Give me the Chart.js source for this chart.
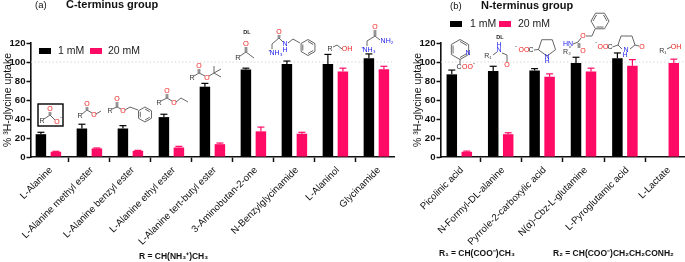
<!DOCTYPE html>
<html><head><meta charset="utf-8">
<script src="https://cdn.jsdelivr.net/npm/chart.js@4"></script>
<style>html,body{margin:0;padding:0;background:#fff;overflow:hidden}canvas{position:absolute;left:0;top:0}</style>
</head><body>
<canvas id="a" width="685" height="262"></canvas>
<canvas id="b" width="685" height="262"></canvas>
<script>
const seriesNames = ['1 mM', '20 mM'];
const cTermCategories = ['L-Alanine','L-Alanine methyl ester','L-Alanine benzyl ester','L-Alanine ethyl ester','L-Alanine tert-butyl ester','3-Aminobutan-2-one','N-Benzylglycinamide','L-Alaninol','Glycinamide'];
const cTerm1mM = [24,30,30,42,74,92,98,98,104];
const cTerm1mMErr = [2,4.5,3,3,3.5,1.5,3,10,4.5];
const cTerm20mM = [5.5,9,6.5,10,13.5,27,24.5,90,92.5];
const cTerm20mMErr = [0.5,0.5,0.5,1.2,1.2,4.5,1.5,3.5,3];
const nTermCategories = ['Picolinic acid','N-Formyl-DL-alanine','Pyrrole-2-carboxylic acid','N(\u03b1)-Cbz-L-glutamine','L-Pyroglutamic acid','L-Lactate'];
const nTerm1mM = [87,90.5,91,99,104,null];
const nTerm1mMErr = [4.5,5,2,6,5.5,null];
const nTerm20mM = [5.5,24,84.5,90,96,99];
const nTerm20mMErr = [0.7,1.5,3,3.5,6.5,4];
const yTicks = [0,20,40,60,80,100,120];

const BLACK='#000', PINK='#ff0a64', RED='#f01818', BLUE='#2222ee', BOND='#555';
const FONT='"Liberation Sans", Arial, sans-serif';

class PlacedCategory extends Chart.CategoryScale {
  configure(){
    super.configure();
    const o=this.options.placement;
    if(!o) return;
    this._valueRange=this._length/o.step;
    this._startValue=-(o.first-this._startPixel)/o.step;
  }
}
PlacedCategory.id='placedCategory';
PlacedCategory.defaults=Chart.CategoryScale.defaults;
Chart.register(PlacedCategory);

function txt(c,s,x,y,col,size,weight){
  c.fillStyle=col||BLACK;
  c.font=(weight||'normal')+' '+(size||7)+'px '+FONT;
  c.textAlign='center';c.textBaseline='middle';
  c.fillText(s,x,y);
}
function line(c,pts,col,w){
  c.strokeStyle=col||BOND;c.lineWidth=w||0.9;c.beginPath();
  pts.forEach((p,i)=>i?c.lineTo(p[0],p[1]):c.moveTo(p[0],p[1]));c.stroke();
}
function ring(c,cx,cy,r,start,n,inner,gap){
  n=n||6;const p=[],q=[];
  for(let i=0;i<=n;i++){
    const a=(start||0)+i*2*Math.PI/n-Math.PI/2;
    p.push([cx+r*Math.cos(a),cy+r*Math.sin(a)]);
    q.push([cx+(r-2)*Math.cos(a),cy+(r-2)*Math.sin(a)]);
  }
  if(gap==null) line(c,p); else line(c,p.slice(0,gap+1)),line(c,p.slice(gap+1));
  if(inner) for(let i=0;i<n;i+=2) line(c,[q[i],q[i+1]]);
}
function carbonyl(c,x,y,oy){
  line(c,[[x-0.8,y],[x-0.8,oy]]);line(c,[[x+0.8,y],[x+0.8,oy]]);
}

function drawCTerm(c){
  c.strokeStyle='#000';c.lineWidth=1.4;c.strokeRect(38,104,25,22);
  txt(c,'R',42,121,'#333');txt(c,'O',50,109,RED);txt(c,'O',57,122,RED);txt(c,'-',61,117,'#333',6);
  line(c,[[44,119],[50,115],[55,120]]);carbonyl(c,50,115,112);

  txt(c,'R',80,116,'#333');txt(c,'O',87,104,RED);txt(c,'O',94,115,RED);
  line(c,[[82,114],[87,110],[92,113]]);carbonyl(c,87,110,107);line(c,[[96,114],[101,111]]);

  txt(c,'R',110,111,'#333');txt(c,'O',117,99,RED);txt(c,'O',123,111,RED);
  line(c,[[112,109],[117,107],[121,109]]);carbonyl(c,117,107,102);
  line(c,[[125,110],[130,107],[138,110]]);ring(c,145,114.5,7.5,0,6,true);

  txt(c,'R',159,103,'#333');txt(c,'O',167,91,RED);txt(c,'O',174,103,RED);
  line(c,[[161,101],[167,98],[172,101]]);carbonyl(c,167,98,94);line(c,[[176,102],[181,98],[188,102]]);

  txt(c,'R',192,78,'#333');txt(c,'O',199,66,RED);txt(c,'O',207,78,RED);
  line(c,[[194,76],[199,73],[205,76]]);carbonyl(c,199,73,69);
  line(c,[[209,76],[214,73],[221,77]]);line(c,[[214,73],[214,66]]);line(c,[[214,73],[221,69]]);

  txt(c,'DL',247,32,'#222',5.5,'bold');txt(c,'O',246,44,RED,7.5);txt(c,'R',238,58,'#333',7.5);
  line(c,[[240,56],[246,52],[254,58]]);carbonyl(c,246,52,47);

  txt(c,'\u207aNH\u2083',275,53,BLUE,7);txt(c,'O',279,32,RED);txt(c,'N',285,44,BLUE);txt(c,'H',285,50,BLUE);
  line(c,[[272,49],[272,44],[279,38],[283,42]]);carbonyl(c,279,38,35);
  line(c,[[288,43],[293,39],[300,43]]);ring(c,308,47.5,8,0,6,true);

  txt(c,'R',330,49,'#333');txt(c,'OH',347,49,RED);
  line(c,[[333,47],[337,45],[342,49]]);

  txt(c,'\u207aNH\u2083',368,50,BLUE,7);txt(c,'O',375,27,RED);txt(c,'NH\u2082',387,41,BLUE);
  line(c,[[367,46],[367,41],[375,36],[380,40]]);carbonyl(c,375,36,30);
}
function drawNTerm(c){
  ring(c,460,49.5,10,0,6,true);txt(c,'N',468,53,BLUE);
  txt(c,'C',459,67,'#222');txt(c,'OO',467.5,67,RED);txt(c,'-',474,63,'#333',6);
  line(c,[[460,59.5],[460,64]]);

  txt(c,'DL',500,37,'#222',5.5,'bold');txt(c,'H',499,45,BLUE);txt(c,'N',499,50,BLUE);
  txt(c,'R\u2081',488,56,'#333');txt(c,'O',507,65,RED);
  line(c,[[493,55],[497,52]]);line(c,[[502,53],[507,55],[507,62]]);

  txt(c,'-',516,46,'#333',6);txt(c,'OO',524,50,RED);txt(c,'C',531,50,'#222');
  ring(c,547,47,9,Math.PI,5,false);txt(c,'N',547,57,BLUE);txt(c,'H',547,61.5,BLUE,6.5);
  line(c,[[534,50],[538.5,49.5]]);

  txt(c,'HN',568,44,BLUE);txt(c,'O',583,51,RED);txt(c,'R\u2082',567,52,'#333');txt(c,'O',583,36,RED);
  line(c,[[573,44],[578,42],[581,38]]);carbonyl(c,579,43,48);line(c,[[570,46],[570,48]]);
  line(c,[[586,36],[592,36],[595,29]]);ring(c,600,21,9,Math.PI/6,6,true);

  txt(c,'-',596,42,'#333',6);txt(c,'OO',603,47,RED);txt(c,'C',610,47,'#222');
  line(c,[[612.5,47],[618,45],[621,36],[632,36],[635,45],[630,49]]);line(c,[[618,45],[622,49]]);
  txt(c,'N',626,50,BLUE);txt(c,'H',625,55,BLUE);txt(c,'O',642,47,RED);
  line(c,[[635,45],[639,46]]);

  txt(c,'R\u2081',663,51,'#333');txt(c,'OH',676,47,RED);
  line(c,[[667,49],[671,47]]);
}

const panelPlugin={
  id:'panel',
  beforeDatasetsDraw(ch,_,o){
    const c=ch.ctx,y=ch.scales.y.getPixelForValue(100),a=ch.chartArea;
    c.save();c.setLineDash([1.2,2.4]);line(c,[[a.left,y],[a.right,y]],'#cfcfcf',1);c.restore();
  },
  afterDatasetsDraw(ch,_,o){
    const c=ch.ctx,y=ch.scales.y;
    c.save();
    ch.data.datasets.forEach((ds,di)=>{
      const meta=ch.getDatasetMeta(di);
      ds.errors.forEach((e,i)=>{
        if(e==null||ds.data[i]==null) return;
        const bx=meta.data[i].x,y0=y.getPixelForValue(ds.data[i]),y1=y.getPixelForValue(ds.data[i]+e);
        line(c,[[bx,y0],[bx,y1]],ds.backgroundColor,1.2);
        line(c,[[bx-3.5,y1],[bx+3.5,y1]],ds.backgroundColor,1.2);
      });
    });
    const L=o.legend;
    ch.data.datasets.forEach((ds,di)=>{
      c.fillStyle=ds.backgroundColor;c.fillRect(L.boxes[di],L.y-3,12,6);
      c.fillStyle='#222';c.font='10.5px '+FONT;c.textAlign='left';c.textBaseline='middle';
      c.fillText(ds.label,L.labels[di],L.y+0.5);
    });
    o.texts.forEach(t=>{
      c.fillStyle='#111';c.font=(t.w||'normal')+' '+t.s+'px '+FONT;c.textAlign='left';c.textBaseline='middle';
      c.fillText(t.t,t.x,t.y);
    });
    o.draw(c);
    c.restore();
  }
};

function makeChart(id,cats,v1,e1,v2,e2,p){
  return new Chart(document.getElementById(id),{
    type:'bar',
    data:{labels:cats,datasets:[
      {label:seriesNames[0],data:v1,errors:e1,backgroundColor:BLACK,categoryPercentage:30/p.step,barPercentage:0.7},
      {label:seriesNames[1],data:v2,errors:e2,backgroundColor:PINK,categoryPercentage:30/p.step,barPercentage:0.7}
    ]},
    plugins:[panelPlugin],
    options:{
      responsive:false,animation:false,
      layout:{padding:{left:p.left-31,right:685-p.right,top:43,bottom:0}},
      plugins:{legend:{display:false},tooltip:{enabled:false},
        panel:{legend:p.legend,texts:p.texts,draw:p.draw}},
      scales:{
        x:{type:'placedCategory',placement:{first:p.first,step:p.step},
          grid:{drawOnChartArea:false,drawTicks:true,tickLength:5,tickWidth:1.5,color:'#111'},
          border:{display:true,color:'#111',width:1.6},
          ticks:{autoSkip:false,minRotation:45,maxRotation:45,padding:2.5,labelOffset:2.5,color:'#111',font:{family:FONT,size:9.7},crossAlign:'near'},
          afterFit(s){s.height=105;s.paddingLeft=0;s.paddingRight=0;}},
        y:{min:0,max:120,
          afterBuildTicks(s){s.ticks=yTicks.map(v=>({value:v}));},
          grid:{drawOnChartArea:false,drawTicks:true,tickLength:4.5,tickWidth:1.5,color:'#111'},
          border:{display:true,color:'#111',width:1.6},
          ticks:{padding:1,color:'#111',font:{family:FONT,size:9.6,weight:'bold'}},
          title:{display:true,text:'% \u00b3H-glycine uptake',color:'#111',font:{family:FONT,size:10.5},padding:{top:2,bottom:0}},
          afterFit(s){s.width=31;s.paddingTop=0;s.paddingBottom=0;}}
      }
    }
  });
}
makeChart('a',cTermCategories,cTerm1mM,cTerm1mMErr,cTerm20mM,cTerm20mMErr,{
  left:31,right:394,first:48.4,step:41,
  legend:{boxes:[39,90],labels:[58,108],y:51},
  texts:[{t:'(a)',x:35,y:5,s:9.5},{t:'C-terminus group',x:66,y:5,s:11,w:'bold'},
         {t:'R = CH(NH\u2083\u207a)CH\u2083',x:139,y:257,s:8.5,w:'bold'}],
  draw:drawCTerm});
makeChart('b',nTermCategories,nTerm1mM,nTerm1mMErr,nTerm20mM,nTerm20mMErr,{
  left:441,right:685,first:459.3,step:41.4,
  legend:{boxes:[450,499],labels:[470,518],y:24},
  texts:[{t:'(b)',x:450,y:6,s:9.5},{t:'N-terminus group',x:481,y:6,s:11,w:'bold'},
         {t:'R\u2081 = CH(COO\u207b)CH\u2083',x:439,y:254,s:8.5,w:'bold'},
         {t:'R\u2082 = CH(COO\u207b)CH\u2082CH\u2082CONH\u2082',x:553,y:254,s:8.5,w:'bold'}],
  draw:drawNTerm});
</script>
</body></html>
